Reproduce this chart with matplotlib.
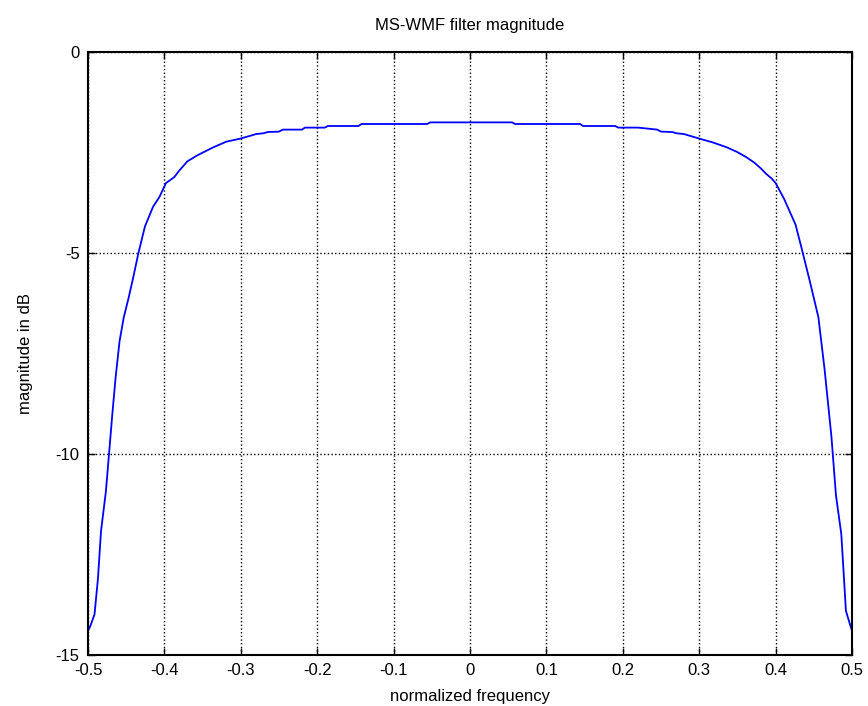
import matplotlib
matplotlib.use("Agg")
import matplotlib.pyplot as plt

plt.rcParams.update({
    "font.family": ["Liberation Sans", "DejaVu Sans"],
    "font.size": 12,
})

# normalized frequency and magnitude (dB)
freq = [
    -0.500, -0.497, -0.4915, -0.487, -0.483, -0.4766, -0.4723, -0.468, -0.4638,
    -0.4587, -0.4532, -0.4468, -0.4404, -0.434, -0.4255, -0.4149, -0.4064,
    -0.398, -0.387, -0.381, -0.370, -0.357, -0.336, -0.319, -0.302, -0.287,
    -0.280, -0.270, -0.265, -0.250, -0.245, -0.220, -0.216, -0.190, -0.186,
    -0.146, -0.142, -0.056, -0.052, 0.055, 0.059, 0.144, 0.148, 0.190,
    0.194, 0.220, 0.245, 0.250, 0.265, 0.270, 0.280, 0.287, 0.3013, 0.318,
    0.336, 0.350, 0.362, 0.372, 0.381, 0.387, 0.395, 0.400, 0.411, 0.426,
    0.434, 0.445, 0.456, 0.464, 0.473, 0.479, 0.486, 0.492, 0.498, 0.500,
]
mag_db = [
    -14.4, -14.28, -13.99, -13.1, -11.92, -10.93, -9.95, -8.97, -8.08,
    -7.19, -6.6, -6.11, -5.57, -5.0, -4.34, -3.85, -3.6,
    -3.26, -3.11, -2.96, -2.72, -2.57, -2.37, -2.23, -2.16, -2.08,
    -2.04, -2.02, -1.99, -1.98, -1.93, -1.93, -1.88, -1.88, -1.84,
    -1.84, -1.79, -1.79, -1.75, -1.75, -1.79, -1.79, -1.84, -1.84,
    -1.88, -1.88, -1.93, -1.98, -1.99, -2.02, -2.04, -2.08, -2.16, -2.25,
    -2.37, -2.49, -2.62, -2.75, -2.90, -3.02, -3.15, -3.26, -3.65, -4.29,
    -4.88, -5.72, -6.6, -7.88, -9.56, -11.03, -12.0, -13.9, -14.28, -14.4,
]

xticks = [-0.5, -0.4, -0.3, -0.2, -0.1, 0, 0.1, 0.2, 0.3, 0.4, 0.5]
xticklabels = ["-0.5", "-0.4", "-0.3", "-0.2", "-0.1", "0", "0.1", "0.2", "0.3", "0.4", "0.5"]
yticks = [-15, -10, -5, 0]
yticklabels = ["-15", "-10", "-5", "0"]

fig = plt.figure(figsize=(8.68, 7.06), dpi=100)
ax = fig.add_axes([0.1014, 0.0722, 0.8802, 0.8541])

ax.plot(freq, mag_db, color="#0000ff", linewidth=1.3)

ax.set_xlim(-0.5, 0.5)
ax.set_ylim(-15, 0)
ax.set_xticks(xticks)
ax.set_xticklabels(xticklabels)
ax.set_yticks(yticks)
ax.set_yticklabels(yticklabels)
ax.tick_params(direction="in", length=5, width=1, top=True, right=True,
               labelsize=12, pad=6)
ax.grid(True, color="black", linestyle=":", linewidth=1)
for s in ax.spines.values():
    s.set_linewidth(1.5)

ax.set_title("MS-WMF filter magnitude", fontsize=12, pad=16)
ax.set_xlabel("normalized frequency", fontsize=12, labelpad=8)
ax.set_ylabel("magnitude in dB", fontsize=12, labelpad=16)

fig.savefig("out.png", dpi=100)
